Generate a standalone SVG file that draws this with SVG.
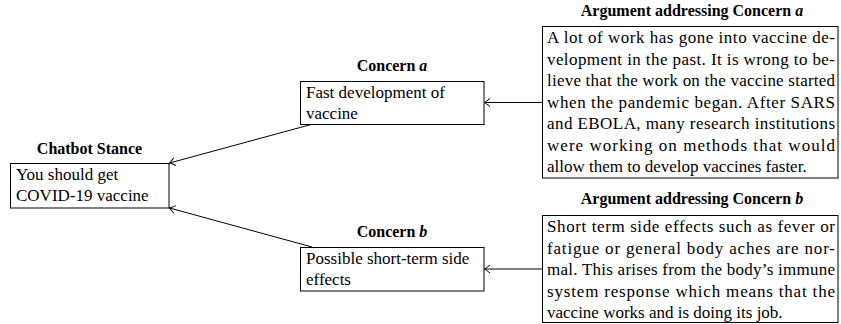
<svg xmlns="http://www.w3.org/2000/svg" width="841" height="324" viewBox="0 0 841 324">
<style>
.box{fill:#fff;stroke:#000;stroke-width:1}
.t{font-family:"Liberation Serif","Times New Roman",serif;font-size:17px;fill:#000}
.h{font-family:"Liberation Serif","Times New Roman",serif;font-size:16px;font-weight:bold;fill:#000;text-anchor:middle}
.hi{font-style:italic}
.edge{fill:none;stroke:#000;stroke-width:1}
</style>
<defs>
<marker id="arr" markerUnits="userSpaceOnUse" markerWidth="12" markerHeight="12" viewBox="-8 -6 10 12" refX="0" refY="0" orient="auto">
<path d="M-5.5,-4 Q-1.5,-0.8 0,0 Q-1.5,0.8 -5.5,4" fill="none" stroke="#000" stroke-width="1"/>
</marker>
</defs>
<g id="connectors">
<line class="edge" x1="542" y1="102.5" x2="484.5" y2="102.5" marker-end="url(#arr)"/>
<line class="edge" x1="542" y1="269" x2="484.5" y2="269" marker-end="url(#arr)"/>
<line class="edge" x1="313" y1="124" x2="169.5" y2="163" marker-end="url(#arr)"/>
<line class="edge" x1="312" y1="247" x2="169.5" y2="208" marker-end="url(#arr)"/>
</g>
<g id="chatbot">
<text class="h" x="89.5" y="154">Chatbot Stance</text>
<rect class="box" x="10.5" y="163.5" width="158.5" height="44.5"/>
<text class="t" x="16" y="180">You should get</text>
<text class="t" x="16" y="201">COVID-19 vaccine</text>
</g>
<g id="concern-a">
<text class="h" x="392" y="70.5">Concern <tspan class="hi">a</tspan></text>
<rect class="box" x="300.5" y="81.5" width="183.5" height="43"/>
<text class="t" x="306" y="98">Fast development of</text>
<text class="t" x="306" y="119">vaccine</text>
</g>
<g id="concern-b">
<text class="h" x="392" y="236.5">Concern <tspan class="hi">b</tspan></text>
<rect class="box" x="300.5" y="247.5" width="183.5" height="43.5"/>
<text class="t" x="306" y="264">Possible short-term side</text>
<text class="t" x="306" y="285">effects</text>
</g>
<g id="argument-a">
<text class="h" x="692" y="15.5">Argument addressing Concern <tspan class="hi">a</tspan></text>
<rect class="box" x="542.5" y="26.5" width="295.5" height="151.5"/>
<text class="t" x="547" y="43" textLength="288" lengthAdjust="spacing">A lot of work has gone into vaccine de-</text>
<text class="t" x="547" y="64.5" textLength="288" lengthAdjust="spacing">velopment in the past. It is wrong to be-</text>
<text class="t" x="547" y="86" textLength="288" lengthAdjust="spacing">lieve that the work on the vaccine started</text>
<text class="t" x="547" y="107.5" textLength="288" lengthAdjust="spacing">when the pandemic began. After SARS</text>
<text class="t" x="547" y="129" textLength="288" lengthAdjust="spacing">and EBOLA, many research institutions</text>
<text class="t" x="547" y="150.5" textLength="288" lengthAdjust="spacing">were working on methods that would</text>
<text class="t" x="547" y="172">allow them to develop vaccines faster.</text>
</g>
<g id="argument-b">
<text class="h" x="692" y="204">Argument addressing Concern <tspan class="hi">b</tspan></text>
<rect class="box" x="542.5" y="215.5" width="295.5" height="107"/>
<text class="t" x="547" y="232" textLength="288" lengthAdjust="spacing">Short term side effects such as fever or</text>
<text class="t" x="547" y="253.5" textLength="288" lengthAdjust="spacing">fatigue or general body aches are nor-</text>
<text class="t" x="547" y="275" textLength="288" lengthAdjust="spacing">mal. This arises from the body’s immune</text>
<text class="t" x="547" y="296.5" textLength="288" lengthAdjust="spacing">system response which means that the</text>
<text class="t" x="547" y="318">vaccine works and is doing its job.</text>
</g>
</svg>
